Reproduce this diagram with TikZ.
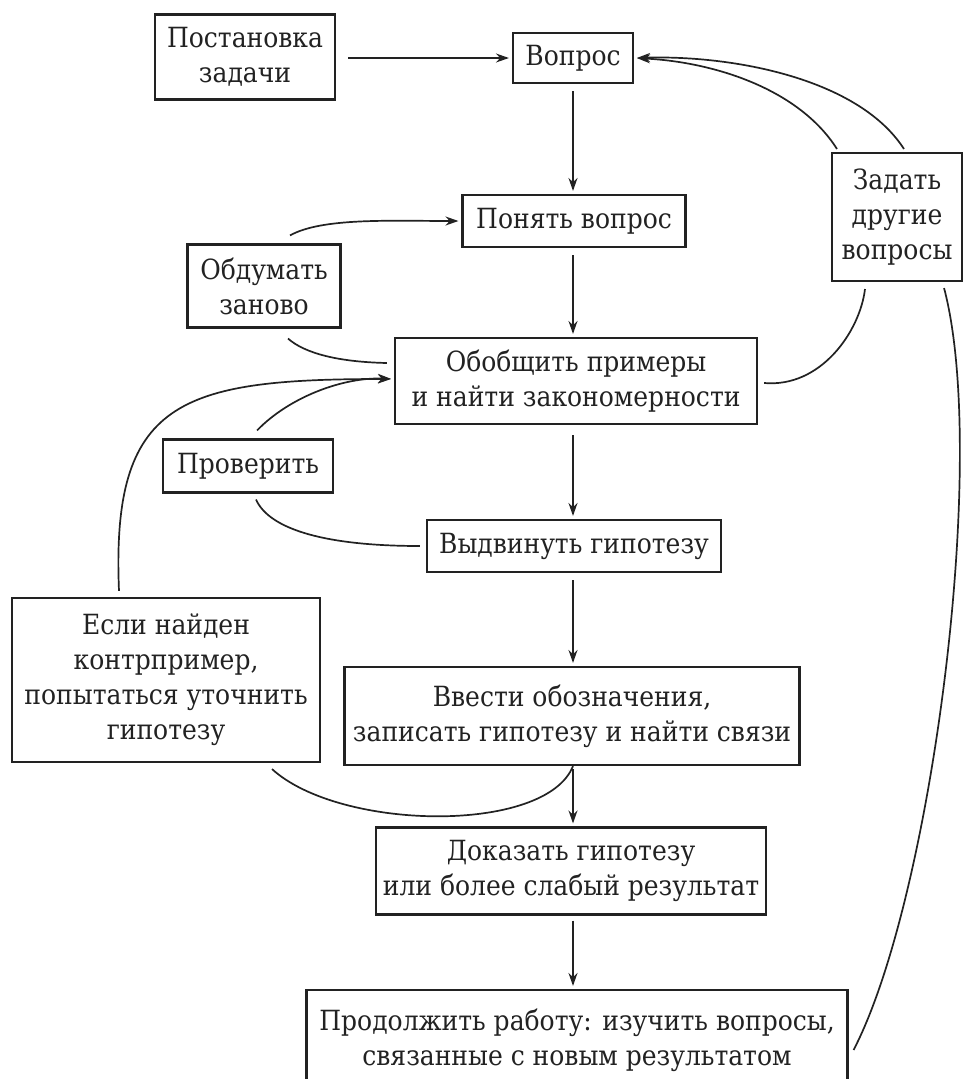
\documentclass[tikz,border=0pt]{standalone}
\usepackage{fontspec}
\setmainfont{DejaVu Serif Condensed}
\usetikzlibrary{arrows.meta}
\definecolor{ink}{HTML}{222222}
\tikzset{
  box/.style={draw=ink, line width=2.1pt, text=ink, align=center, inner sep=0pt,
    font=\fontsize{27.8}{35}\selectfont},
  link/.style={draw=ink, line width=1.7pt},
  arr/.style={link, -{Stealth[length=13pt,width=9pt]}, shorten >=3pt},
}
\begin{document}
\begin{tikzpicture}[x=1pt,y=-1pt]
\useasboundingbox (0,0) rectangle (963,1079);
\clip (0,0) rectangle (963,1079);
\fill[white] (0,0) rectangle (963,1079);
% nodes
\node[box, minimum width=180pt, minimum height=85pt] (post) at (245,57) {Постановка\\задачи};
\node[box, minimum width=120pt, minimum height=50pt] (vopr) at (573,58) {Вопрос};
\node[box, minimum width=223pt, minimum height=52pt] (ponyat) at (574,221) {Понять вопрос};
\node[box, minimum width=153pt, minimum height=83pt] (obdum) at (264,286) {Обдумать\\заново};
\node[box, minimum width=362pt, minimum height=86pt] (obob) at (576,381) {Обобщить примеры\\и найти закономерности};
\node[box, minimum width=130pt, minimum height=128pt] (zadat) at (897,217) {Задать\\другие\\вопросы};
\node[box, minimum width=170pt, minimum height=53pt] (prov) at (248,466) {Проверить};
\node[box, minimum width=294pt, minimum height=52pt] (vydv) at (574,546) {Выдвинуть гипотезу};
\node[box, minimum width=308pt, minimum height=164pt] (esli) at (166,680) {Если найден\\контрпример,\\попытаться уточнить\\гипотезу};
\node[box, minimum width=455pt, minimum height=98pt] (vvest) at (572,716) {Ввести обозначения,\\записать гипотезу и найти связи};
\node[box, minimum width=390pt, minimum height=87pt] (dokaz) at (571,871) {Доказать гипотезу\\или более слабый результат};
\node[box, minimum width=541pt, minimum height=100pt] (prod) at (577,1040) {Продолжить работу: изучить вопросы,\\связанные с новым результатом};
% straight arrows
\draw[arr, shorten <=12pt] (post.east |- vopr.west) -- (vopr.west);
\draw[arr, shorten <=7pt] (vopr.south) -- (vopr.south |- ponyat.north);
\draw[arr, shorten <=7pt] (vopr.south |- ponyat.south) -- (vopr.south |- obob.north);
\draw[arr, shorten <=10pt] (vopr.south |- obob.south) -- (vopr.south |- vydv.north);
\draw[arr, shorten <=7pt] (vopr.south |- vydv.south) -- (vopr.south |- vvest.north);
\draw[arr, shorten <=3pt] (vopr.south |- vvest.south) -- (vopr.south |- dokaz.north);
\draw[arr, shorten <=5pt] (vopr.south |- dokaz.south) -- (vopr.south |- prod.north);
% curved links
\draw[arr] ([xshift=26pt,yshift=8pt]obdum.north) .. controls +(32,-18) and +(-70,0) .. (ponyat.west);
\draw[link] ([xshift=-7pt,yshift=18pt]obob.west) .. controls +(-48,-1) and +(17,15) .. ([xshift=24pt,yshift=-10pt]obdum.south);
\draw[arr] ([xshift=9pt,yshift=8pt]prov.north) .. controls +(33,-34) and +(-50,-2) .. ([yshift=2pt]obob.west);
\draw[arr] ([xshift=-47pt,yshift=6pt]esli.north) .. controls +(-8,-190) and +(-215,0) .. ([yshift=2pt]obob.west);
\draw[link] ([xshift=-6pt]vydv.west) .. controls +(-91,0) and +(14,31) .. ([xshift=8pt,yshift=-6pt]prov.south);
\draw[link] (vopr.south |- vvest.south) .. controls +(-27,68) and +(68,62) .. ([xshift=106pt,yshift=-6pt]esli.south);
\draw[link] ([xshift=6pt,yshift=-2pt]obob.east) .. controls +(57,5) and +(-5,42) .. ([xshift=-32pt,yshift=-7pt]zadat.south);
\draw[arr] ([xshift=6pt,yshift=3pt]zadat.north west) .. controls +(-38,-60) and +(80,4) .. (vopr.east);
\draw[arr] ([xshift=73pt,yshift=3pt]zadat.north west) .. controls +(-45,-70) and +(100,-3) .. (vopr.east);
\draw[link] ([xshift=5pt,yshift=-10pt]prod.east) .. controls +(78,-150) and +(45,170) .. ([xshift=-19pt,yshift=-6pt]zadat.south east);
\end{tikzpicture}
\end{document}
